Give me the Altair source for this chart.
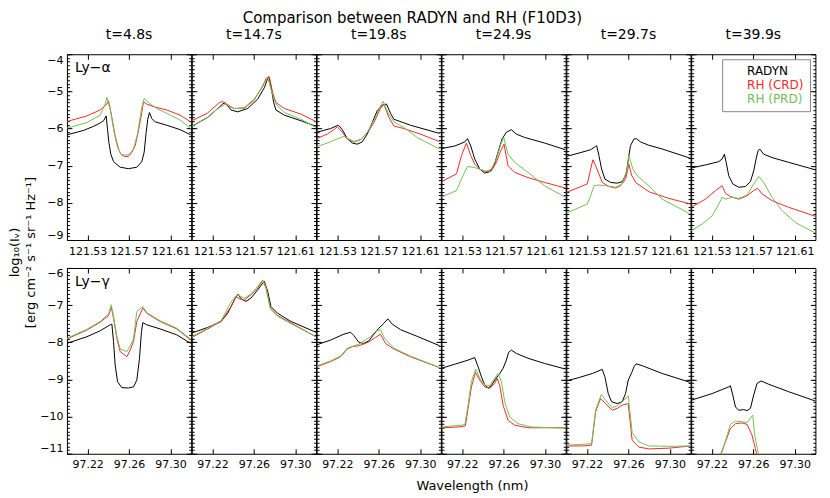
import altair as alt
import pandas as pd
import numpy as np

FONT = "DejaVu Sans"
TIMES = ["t=4.8s", "t=14.7s", "t=19.8s", "t=24.9s", "t=29.7s", "t=39.9s"]
SERIES = ["RADYN", "RH (CRD)", "RH (PRD)"]
COLORS = ["#000000", "#ee2c2c", "#72c255"]
LINE_NAMES = ["Ly−α", "Ly−γ"]
TITLE = "Comparison between RADYN and RH (F10D3)"
Y_TITLE = ["log₁₀(Iᵥ)", "[erg cm⁻² s⁻¹ sr⁻¹ Hz⁻¹]"]
X_TITLE = "Wavelength (nm)"

X_DOMAINS = [[121.51, 121.63], [97.20, 97.32]]
Y_DOMAINS = [[-9, -4], [-11, -6]]
X_TICKS = [[121.53, 121.57, 121.61], [97.22, 97.26, 97.30]]
Y_TICKS = [[-9, -8, -7, -6, -5, -4], [-11, -10, -9, -8, -7, -6]]

# ---------------- Ly-alpha (top row) ----------------
a1_radyn = [(121.5100,-6.17),(121.5261,-6.05),(121.5357,-5.94),(121.5421,-5.85),(121.5454,-5.79),(121.5479,-5.66),(121.5492,-6.02),(121.5505,-6.37),(121.5524,-6.69),(121.5550,-6.89),(121.5614,-7.04),(121.5695,-7.08),(121.5775,-7.04),(121.5823,-6.89),(121.5846,-6.64),(121.5865,-6.11),(121.5881,-5.75),(121.5897,-5.57),(121.5920,-5.73),(121.5952,-5.82),(121.6064,-5.91),(121.6193,-6.03),(121.6296,-6.17)]
a1_crd = [(121.5100,-5.81),(121.5293,-5.66),(121.5421,-5.50),(121.5486,-5.34),(121.5502,-5.25),(121.5534,-5.70),(121.5566,-6.20),(121.5598,-6.55),(121.5621,-6.69),(121.5653,-6.75),(121.5695,-6.75),(121.5727,-6.64),(121.5759,-6.46),(121.5791,-6.06),(121.5823,-5.57),(121.5839,-5.28),(121.5871,-5.34),(121.5936,-5.41),(121.6064,-5.50),(121.6193,-5.64),(121.6296,-5.82)]
a1_prd = [(121.5100,-5.99),(121.5293,-5.84),(121.5421,-5.64),(121.5470,-5.34),(121.5486,-5.16),(121.5518,-5.48),(121.5556,-6.11),(121.5589,-6.51),(121.5621,-6.69),(121.5663,-6.72),(121.5704,-6.69),(121.5743,-6.55),(121.5781,-6.15),(121.5820,-5.48),(121.5846,-5.19),(121.5888,-5.30),(121.5968,-5.46),(121.6064,-5.59),(121.6193,-5.77),(121.6296,-6.00)]

a2_radyn = [(121.5100,-5.94),(121.5254,-5.70),(121.5351,-5.46),(121.5399,-5.34),(121.5421,-5.30),(121.5479,-5.50),(121.5544,-5.55),(121.5640,-5.46),(121.5736,-5.21),(121.5801,-4.90),(121.5833,-4.65),(121.5843,-4.60),(121.5865,-4.85),(121.5891,-5.30),(121.5913,-5.50),(121.5994,-5.64),(121.6154,-5.79),(121.6299,-5.94)]
a2_crd = [(121.5100,-5.79),(121.5254,-5.58),(121.5366,-5.30),(121.5399,-5.27),(121.5447,-5.39),(121.5511,-5.46),(121.5608,-5.44),(121.5704,-5.21),(121.5785,-4.87),(121.5817,-4.65),(121.5849,-4.62),(121.5881,-5.03),(121.5913,-5.30),(121.5994,-5.46),(121.6154,-5.61),(121.6299,-5.81)]
a2_prd = [(121.5100,-5.94),(121.5254,-5.70),(121.5351,-5.46),(121.5431,-5.33),(121.5511,-5.46),(121.5608,-5.46),(121.5704,-5.24),(121.5801,-4.76),(121.5833,-4.62),(121.5871,-5.00),(121.5913,-5.34),(121.5994,-5.57),(121.6154,-5.75),(121.6299,-5.97)]

a3_radyn = [(121.5100,-6.10),(121.5235,-6.00),(121.5299,-5.92),(121.5315,-5.92),(121.5348,-6.03),(121.5396,-6.27),(121.5444,-6.39),(121.5492,-6.42),(121.5540,-6.36),(121.5589,-6.15),(121.5637,-5.84),(121.5685,-5.52),(121.5733,-5.37),(121.5775,-5.34),(121.5814,-5.59),(121.5846,-5.75),(121.6006,-5.91),(121.6286,-6.13)]
a3_crd = [(121.5100,-6.27),(121.5203,-6.15),(121.5267,-6.03),(121.5299,-5.95),(121.5348,-6.10),(121.5396,-6.28),(121.5460,-6.36),(121.5524,-6.30),(121.5589,-6.12),(121.5653,-5.84),(121.5717,-5.46),(121.5749,-5.34),(121.5798,-5.70),(121.5846,-5.93),(121.5942,-6.00),(121.6103,-6.15),(121.6286,-6.35)]
a3_prd = [(121.5100,-6.49),(121.5203,-6.39),(121.5299,-6.28),(121.5364,-6.21),(121.5412,-6.28),(121.5460,-6.35),(121.5524,-6.30),(121.5589,-6.10),(121.5669,-5.70),(121.5717,-5.39),(121.5743,-5.27),(121.5788,-5.57),(121.5846,-5.82),(121.5942,-5.97),(121.6071,-6.24),(121.6286,-6.55)]

a4_radyn = [(121.5100,-6.54),(121.5229,-6.47),(121.5325,-6.36),(121.5351,-6.27),(121.5383,-6.47),(121.5421,-6.82),(121.5470,-7.09),(121.5518,-7.20),(121.5566,-7.16),(121.5608,-7.00),(121.5646,-6.64),(121.5685,-6.28),(121.5727,-6.10),(121.5775,-6.03),(121.5823,-6.15),(121.5904,-6.24),(121.6096,-6.39),(121.6296,-6.57)]
a4_crd = [(121.5100,-7.43),(121.5245,-7.22),(121.5293,-6.73),(121.5341,-6.39),(121.5383,-6.73),(121.5421,-6.96),(121.5470,-7.09),(121.5518,-7.16),(121.5582,-7.14),(121.5630,-6.91),(121.5672,-6.60),(121.5704,-6.42),(121.5743,-7.00),(121.5807,-7.18),(121.5936,-7.32),(121.6096,-7.45),(121.6296,-7.60)]
a4_prd = [(121.5100,-7.84),(121.5245,-7.67),(121.5293,-7.36),(121.5351,-7.02),(121.5421,-7.05),(121.5486,-7.11),(121.5534,-7.15),(121.5582,-7.09),(121.5630,-6.82),(121.5679,-6.37),(121.5701,-6.24),(121.5743,-6.69),(121.5807,-6.91),(121.5936,-7.18),(121.6096,-7.54),(121.6296,-7.85)]

a5_radyn = [(121.5100,-6.75),(121.5222,-6.66),(121.5335,-6.57),(121.5383,-6.48),(121.5393,-6.46),(121.5415,-6.73),(121.5441,-7.09),(121.5473,-7.36),(121.5528,-7.45),(121.5592,-7.47),(121.5640,-7.43),(121.5679,-7.22),(121.5704,-6.73),(121.5720,-6.46),(121.5753,-6.28),(121.5775,-6.27),(121.5817,-6.36),(121.5897,-6.45),(121.6026,-6.55),(121.6299,-6.80)]
a5_crd = [(121.5100,-7.72),(121.5303,-7.49),(121.5335,-7.09),(121.5357,-6.84),(121.5383,-7.00),(121.5415,-7.22),(121.5447,-7.45),(121.5511,-7.56),(121.5576,-7.60),(121.5624,-7.54),(121.5672,-7.36),(121.5704,-6.96),(121.5730,-7.25),(121.5769,-7.45),(121.5897,-7.70),(121.6090,-7.88),(121.6299,-8.03)]
a5_prd = [(121.5100,-8.28),(121.5303,-8.03),(121.5335,-7.81),(121.5367,-7.54),(121.5415,-7.52),(121.5479,-7.54),(121.5576,-7.58),(121.5640,-7.49),(121.5688,-7.09),(121.5704,-6.73),(121.5743,-7.09),(121.5785,-7.27),(121.5897,-7.54),(121.6026,-7.90),(121.6299,-8.30)]

a6_radyn = [(121.5100,-7.06),(121.5238,-6.98),(121.5367,-6.89),(121.5399,-6.82),(121.5421,-6.69),(121.5438,-6.91),(121.5463,-7.27),(121.5502,-7.49),(121.5560,-7.58),(121.5624,-7.56),(121.5672,-7.43),(121.5704,-7.14),(121.5727,-6.82),(121.5746,-6.60),(121.5762,-6.55),(121.5801,-6.69),(121.5881,-6.78),(121.6042,-6.91),(121.6299,-7.11)]
a6_crd = [(121.5100,-8.12),(121.5238,-7.90),(121.5335,-7.67),(121.5399,-7.54),(121.5431,-7.74),(121.5479,-7.83),(121.5560,-7.90),(121.5640,-7.81),(121.5704,-7.67),(121.5743,-7.61),(121.5785,-7.76),(121.5881,-7.94),(121.6042,-8.12),(121.6299,-8.36)]
a6_prd = [(121.5100,-8.75),(121.5206,-8.57),(121.5303,-8.35),(121.5367,-8.03),(121.5399,-7.85),(121.5431,-7.90),(121.5495,-7.85),(121.5560,-7.88),(121.5640,-7.79),(121.5704,-7.49),(121.5753,-7.29),(121.5801,-7.45),(121.5881,-7.85),(121.5978,-8.21),(121.6106,-8.53),(121.6299,-8.81)]

# ---------------- Ly-gamma (bottom row) ----------------
g1_radyn = [(97.2000,-8.03),(97.2193,-7.85),(97.2321,-7.69),(97.2418,-7.53),(97.2434,-7.51),(97.2450,-7.98),(97.2466,-8.61),(97.2489,-9.06),(97.2530,-9.22),(97.2595,-9.23),(97.2643,-9.20),(97.2675,-9.02),(97.2701,-8.43),(97.2720,-7.71),(97.2733,-7.47),(97.2771,-7.53),(97.2900,-7.64),(97.3061,-7.80),(97.3196,-8.03)]
g1_crd = [(97.2000,-7.91),(97.2193,-7.67),(97.2321,-7.46),(97.2402,-7.28),(97.2428,-7.05),(97.2450,-7.35),(97.2482,-7.89),(97.2514,-8.25),(97.2579,-8.39),(97.2611,-8.21),(97.2643,-7.98),(97.2675,-7.44),(97.2733,-7.08),(97.2771,-7.22),(97.2900,-7.44),(97.3061,-7.64),(97.3196,-7.94)]
g1_prd = [(97.2000,-7.89),(97.2193,-7.65),(97.2321,-7.44),(97.2402,-7.24),(97.2428,-6.99),(97.2450,-7.30),(97.2482,-7.84),(97.2514,-8.18),(97.2579,-8.25),(97.2611,-8.10),(97.2643,-7.90),(97.2675,-7.17),(97.2733,-7.04),(97.2771,-7.20),(97.2900,-7.42),(97.3061,-7.62),(97.3196,-7.92)]

g2_radyn = [(97.2000,-7.75),(97.2154,-7.60),(97.2283,-7.44),(97.2347,-7.22),(97.2411,-6.86),(97.2444,-6.70),(97.2476,-6.83),(97.2524,-6.90),(97.2572,-6.81),(97.2636,-6.59),(97.2685,-6.41),(97.2701,-6.36),(97.2733,-6.63),(97.2765,-7.04),(97.2829,-7.22),(97.2958,-7.44),(97.3199,-7.73)]
g2_crd = [(97.2000,-7.87),(97.2154,-7.64),(97.2283,-7.44),(97.2379,-7.04),(97.2428,-6.77),(97.2460,-6.83),(97.2508,-6.86),(97.2572,-6.72),(97.2636,-6.54),(97.2685,-6.34),(97.2717,-6.54),(97.2759,-7.08),(97.2829,-7.28),(97.2958,-7.48),(97.3199,-7.85)]
g2_prd = [(97.2000,-7.85),(97.2154,-7.62),(97.2283,-7.42),(97.2379,-6.92),(97.2437,-6.72),(97.2508,-6.81),(97.2572,-6.70),(97.2636,-6.50),(97.2685,-6.32),(97.2717,-6.52),(97.2759,-7.10),(97.2829,-7.30),(97.2958,-7.50),(97.3199,-7.85)]

g3_radyn = [(97.2000,-8.07),(97.2135,-7.94),(97.2264,-7.78),(97.2328,-7.73),(97.2360,-7.82),(97.2408,-8.00),(97.2456,-8.03),(97.2505,-7.96),(97.2553,-7.78),(97.2601,-7.62),(97.2649,-7.49),(97.2688,-7.37),(97.2730,-7.51),(97.2810,-7.66),(97.2971,-7.84),(97.3186,-8.09)]
g3_crd = [(97.2000,-8.66),(97.2135,-8.52),(97.2231,-8.39),(97.2296,-8.18),(97.2344,-8.12),(97.2408,-8.09),(97.2473,-8.03),(97.2521,-7.96),(97.2569,-7.87),(97.2617,-7.78),(97.2665,-8.03),(97.2746,-8.18),(97.2906,-8.39),(97.3186,-8.68)]
g3_prd = [(97.2000,-8.64),(97.2135,-8.50),(97.2231,-8.37),(97.2296,-8.16),(97.2408,-8.05),(97.2521,-7.85),(97.2569,-7.71),(97.2617,-7.66),(97.2656,-7.89),(97.2746,-8.16),(97.2906,-8.37),(97.3186,-8.68)]

g4_radyn = [(97.2000,-8.70),(97.2129,-8.59),(97.2257,-8.48),(97.2321,-8.41),(97.2354,-8.66),(97.2386,-8.93),(97.2418,-9.15),(97.2450,-9.23),(97.2482,-9.17),(97.2514,-9.02),(97.2563,-8.84),(97.2595,-8.70),(97.2627,-8.48),(97.2649,-8.27),(97.2675,-8.21),(97.2723,-8.30),(97.2836,-8.43),(97.2996,-8.57),(97.3196,-8.72)]
g4_crd = [(97.2000,-10.30),(97.2161,-10.28),(97.2231,-10.25),(97.2257,-9.78),(97.2289,-9.20),(97.2328,-8.81),(97.2370,-9.02),(97.2418,-9.20),(97.2466,-9.24),(97.2514,-9.11),(97.2537,-8.97),(97.2563,-9.17),(97.2595,-9.69),(97.2643,-10.10),(97.2707,-10.23),(97.2836,-10.30),(97.3196,-10.30)]
g4_prd = [(97.2000,-10.28),(97.2225,-10.22),(97.2257,-9.69),(97.2289,-9.06),(97.2331,-8.72),(97.2370,-8.97),(97.2418,-9.15),(97.2466,-9.17),(97.2514,-8.97),(97.2546,-8.84),(97.2579,-9.06),(97.2611,-9.60),(97.2659,-10.01),(97.2739,-10.19),(97.2868,-10.28),(97.3196,-10.31)]

g5_radyn = [(97.2000,-9.04),(97.2122,-8.95),(97.2251,-8.84),(97.2347,-8.73),(97.2373,-8.93),(97.2405,-9.38),(97.2437,-9.60),(97.2492,-9.65),(97.2540,-9.60),(97.2572,-9.38),(97.2598,-9.02),(97.2636,-8.79),(97.2653,-8.66),(97.2675,-8.58),(97.2733,-8.63),(97.2926,-8.84),(97.3199,-9.08)]
g5_crd = [(97.2000,-10.79),(97.2154,-10.79),(97.2244,-10.77),(97.2283,-9.87),(97.2331,-9.51),(97.2379,-9.65),(97.2444,-9.83),(97.2492,-9.78),(97.2540,-9.69),(97.2598,-9.65),(97.2636,-10.64),(97.2701,-10.82),(97.2797,-10.87),(97.2990,-10.85),(97.3199,-10.79)]
g5_prd = [(97.2000,-10.77),(97.2244,-10.73),(97.2283,-9.83),(97.2338,-9.40),(97.2379,-9.56),(97.2444,-9.76),(97.2492,-9.71),(97.2540,-9.60),(97.2598,-9.44),(97.2636,-10.43),(97.2701,-10.68),(97.2797,-10.79),(97.2990,-10.80),(97.3199,-10.79)]

g6_radyn = [(97.2000,-9.56),(97.2203,-9.38),(97.2363,-9.20),(97.2379,-9.17),(97.2402,-9.42),(97.2428,-9.74),(97.2460,-9.83),(97.2508,-9.81),(97.2540,-9.84),(97.2572,-9.78),(97.2604,-9.42),(97.2636,-9.11),(97.2675,-9.04),(97.2749,-9.13),(97.2942,-9.33),(97.3199,-9.58)]
g6_crd = [(97.2200,-11.60),(97.2283,-11.03),(97.2331,-10.68),(97.2379,-10.32),(97.2428,-10.19),(97.2492,-10.17),(97.2540,-10.21),(97.2588,-10.50),(97.2620,-10.86),(97.2636,-11.05),(97.2680,-11.60)]
g6_prd = [(97.2200,-11.60),(97.2293,-11.00),(97.2338,-10.59),(97.2379,-10.21),(97.2428,-10.12),(97.2492,-10.14),(97.2540,-10.16),(97.2595,-9.96),(97.2614,-10.50),(97.2653,-11.05),(97.2690,-11.60)]

PANELS = [
    [(a1_radyn, a1_crd, a1_prd), (a2_radyn, a2_crd, a2_prd), (a3_radyn, a3_crd, a3_prd),
     (a4_radyn, a4_crd, a4_prd), (a5_radyn, a5_crd, a5_prd), (a6_radyn, a6_crd, a6_prd)],
    [(g1_radyn, g1_crd, g1_prd), (g2_radyn, g2_crd, g2_prd), (g3_radyn, g3_crd, g3_prd),
     (g4_radyn, g4_crd, g4_prd), (g5_radyn, g5_crd, g5_prd), (g6_radyn, g6_crd, g6_prd)],
]

W, H = 124.4, 186
MAJ, MIN = 5, 2.5


def minor_ticks(dom):
    return [float(v) for v in np.round(np.arange(dom[0], dom[1] + 0.001, 0.1), 2)]


def tick_axis(orient, values, size):
    return alt.Axis(orient=orient, values=values, offset=-size, tickSize=size, ticks=True,
                    labels=False, domain=False, grid=False, title=None,
                    tickColor="black", tickWidth=1)


def panel(r, c):
    rows = []
    for s, pts in zip(SERIES, PANELS[r][c]):
        for i, (lam, v) in enumerate(pts):
            rows.append({"lam": lam, "val": v, "series": s, "i": i})
    df = pd.DataFrame(rows)
    corners = pd.DataFrame({"lam": X_DOMAINS[r], "val": Y_DOMAINS[r]})

    def xs():
        return alt.Scale(domain=X_DOMAINS[r], nice=False, zero=False)

    def ys():
        return alt.Scale(domain=Y_DOMAINS[r], nice=False, zero=False)

    xlab_kwargs = dict(orient="bottom", values=X_TICKS[r], format=".2f", ticks=False,
                       domain=False, grid=False, labelFont=FONT, labelFontSize=11,
                       labelColor="black", labelPadding=6 if r == 0 else 5, title=None)
    if r == 1 and c == 2:
        xlab_kwargs.update(title=X_TITLE, titleFont=FONT, titleFontSize=13,
                           titleFontWeight="normal", titleColor="black",
                           titleX=155.5, titleY=36, titleAlign="center",
                           titleBaseline="alphabetic", titleAnchor="middle")
    x_axis = alt.Axis(**xlab_kwargs)

    if c == 0:
        ylab_kwargs = dict(orient="left", values=Y_TICKS[r], format="d", ticks=False,
                           domain=False, grid=False, labelFont=FONT, labelFontSize=11,
                           labelColor="black", labelPadding=4, labelFlush=True, title=None)
        if r == 0:
            ylab_kwargs.update(title=Y_TITLE, titleFont=FONT, titleFontSize=13,
                               titleFontWeight="normal", titleColor="black",
                               titleX=-58, titleY=198, titleAngle=270,
                               titleAlign="center", titleBaseline="top",
                               titleLineHeight=16)
        y_axis = alt.Axis(**ylab_kwargs)
    else:
        y_axis = None

    if r == 0 and c == 5:
        legend = alt.Legend(
            orient="top-right", title=None, offset=5, padding=6,
            strokeColor="#888888", fillColor="white", symbolSize=0,
            symbolStrokeWidth=0, symbolOpacity=0, labelOffset=7,
            labelFont=FONT, labelFontSize=12, rowPadding=2,
            labelColor={"expr": "datum.label == 'RADYN' ? '#000000' : datum.label == 'RH (CRD)' ? '#ee2c2c' : '#72c255'"},
        )
    else:
        legend = None

    lines = alt.Chart(df).mark_line(clip=True, strokeWidth=1).encode(
        x=alt.X("lam:Q", scale=xs(), axis=x_axis),
        y=alt.Y("val:Q", scale=ys(), axis=y_axis),
        color=alt.Color("series:N", scale=alt.Scale(domain=SERIES, range=COLORS), legend=legend),
        order="i:Q",
    )

    tb = alt.Chart(corners).mark_point(opacity=0, size=0)
    t1 = tb.encode(x=alt.X("lam:Q", scale=xs(), axis=tick_axis("top", X_TICKS[r], MAJ)),
                   y=alt.Y("val:Q", scale=ys(), axis=tick_axis("right", Y_TICKS[r], MAJ)))
    t2 = tb.encode(x=alt.X("lam:Q", scale=xs(), axis=tick_axis("bottom", X_TICKS[r], MAJ)),
                   y=alt.Y("val:Q", scale=ys(), axis=tick_axis("left", Y_TICKS[r], MAJ)))
    t3 = tb.encode(x=alt.X("lam:Q", scale=xs(), axis=None),
                   y=alt.Y("val:Q", scale=ys(), axis=tick_axis("left", minor_ticks(Y_DOMAINS[r]), MIN)))
    t4 = tb.encode(x=alt.X("lam:Q", scale=xs(), axis=None),
                   y=alt.Y("val:Q", scale=ys(), axis=tick_axis("right", minor_ticks(Y_DOMAINS[r]), MIN)))

    layers = [lines, t1, t2, t3, t4]
    if c == 0:
        txt = alt.Chart(pd.DataFrame({"t": [LINE_NAMES[r]]})).mark_text(
            align="left", baseline="middle", font=FONT, fontSize=14, color="black"
        ).encode(x=alt.value(8), y=alt.value(14), text="t:N")
        layers.append(txt)

    props = dict(width=W, height=H)
    if r == 0:
        props["title"] = alt.TitleParams(TIMES[c], font=FONT, fontSize=14, fontWeight="normal",
                                         color="black", offset=12, anchor="middle")
    return alt.layer(*layers).resolve_axis(x="independent", y="independent").properties(**props)


panels = [panel(r, c) for r in range(2) for c in range(6)]

chart = alt.concat(
    *panels, columns=6, spacing={"row": 28, "column": 0}, bounds="flush"
).resolve_scale(color="independent").properties(
    title=alt.TitleParams(TITLE, font=FONT, fontSize=15, fontWeight="normal", color="black",
                          anchor="middle", frame="bounds", offset=1),
    padding={"left": 0, "top": 3, "right": 5, "bottom": 2},
    background="white",
).configure_view(stroke="black", strokeWidth=1)

chart.save("out.html", embed_options={"renderer": "svg", "actions": False})
